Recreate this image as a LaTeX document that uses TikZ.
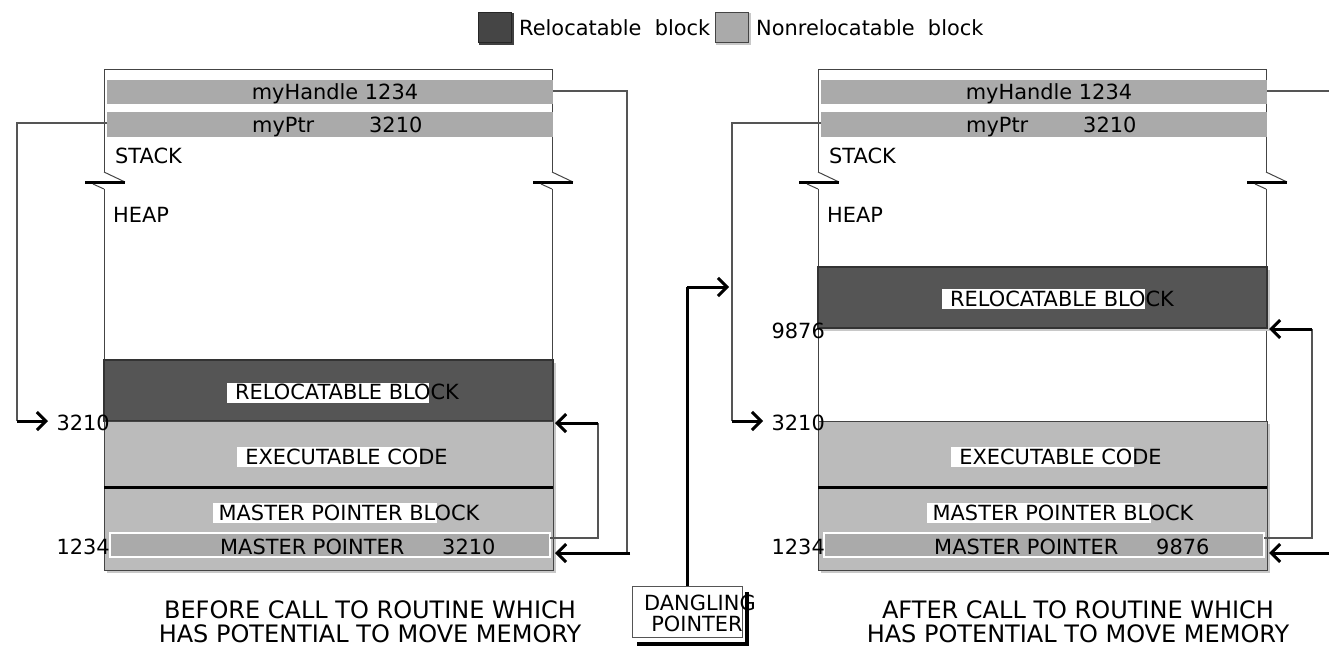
\documentclass[tikz,border=0pt]{standalone}
\usepackage{fontspec}
\setmainfont{DejaVu Sans}
\usetikzlibrary{arrows.meta}
\definecolor{dkblk}{HTML}{555555}
\definecolor{dkline}{HTML}{333333}
\definecolor{ltblk}{HTML}{BBBBBB}
\definecolor{barc}{HTML}{AAAAAA}
\definecolor{shad}{HTML}{C8C8C8}
\definecolor{framec}{HTML}{444444}
\definecolor{thinc}{HTML}{555555}
\tikzset{
  txt/.style={inner sep=0pt, font=\fontsize{20.9}{24}\selectfont, text height=15pt, text depth=0pt},
  captxt/.style={inner sep=0pt, font=\fontsize{24}{28}\selectfont, text height=17.5pt, text depth=0pt},
  frameline/.style={draw=framec, line width=1pt},
  thinline/.style={draw=thinc, line width=1.2pt},
  thickarrow/.style={draw=black, line width=3pt, -{Straight Barb[length=9pt,width=18pt]}},
  blk/.style={rectangle, inner sep=0pt, outer sep=0pt},
  relblk/.style={blk, fill=dkblk, draw=dkline, line width=1.2pt},
  nonrel/.style={blk, fill=ltblk, draw=framec, line width=1pt},
  barblk/.style={blk, fill=barc},
  mpbar/.style={blk, fill=barc, draw=white, line width=1.2pt},
  shadblk/.style={blk, fill=shad},
}
\newcommand\mybreak[1]{%
  \draw[frameline] (#1,172) -- (#1+21,182);
  \draw[line width=3pt] (#1-19,182) -- (#1+21,182);
  \draw[frameline] (#1-11,184) -- (#1,189);
}
\begin{document}
\begin{tikzpicture}[x=1pt,y=-1pt]
\useasboundingbox (0,0) rectangle (1329,646);

% ---------------- legend ----------------
\node[blk, fill=black!75, minimum width=35pt, minimum height=32pt] (lgdsh) at (496,28.5) {};
\node[blk, fill=black!73, draw=black!85, line width=1pt, minimum width=33pt, minimum height=30pt] (lgd) at (494.5,27) {};
\node[txt, anchor=west] (lgdt) at (519,28) {Relocatable\ \ block};
\node[blk, fill=shad, minimum width=35pt, minimum height=32pt] (lgnsh) at (733,28.5) {};
\node[blk, fill=barc, draw=framec, line width=1pt, minimum width=33pt, minimum height=30pt] (lgn) at (731.5,27) {};
\node[txt, anchor=west] (lgnt) at (756,28) {Nonrelocatable\ \ block};

% ---------------- left panel (before) ----------------
\begin{scope}
  \draw[frameline] (104,172) -- (104,69) -- (552,69) -- (552,172);
  \draw[frameline] (104,189) -- (104,570);
  \draw[frameline] (552,189) -- (552,570);
  \mybreak{104}
  \mybreak{552}
  \node[barblk, minimum width=446pt, minimum height=24pt] (hbarL) at (330,92) {};
  \node[txt] (htxtL) at (335,92) {myHandle 1234};
  \node[barblk, minimum width=446pt, minimum height=25pt] (pbarL) at (330,124.5) {};
  \node[txt, anchor=west] (ptxtL) at (252,124.5) {myPtr};
  \node[txt, anchor=west] (pvalL) at (369,124.5) {3210};
  \node[txt, anchor=west] (stackL) at (115,156) {STACK};
  \node[txt, anchor=west] (heapL) at (113,215) {HEAP};
  % shadows
  \node[shadblk, minimum width=449pt, minimum height=210pt] (shL) at (331.5,468) {};
  % blocks
  \node[relblk, minimum width=449pt, minimum height=61pt] (relL) at (328.5,390.5) {};
  \node[nonrel, minimum width=449pt, minimum height=66pt] (exeL) at (328.5,454) {};
  \node[nonrel, minimum width=449pt, minimum height=83pt] (mpbL) at (328.5,528.5) {};
  \draw[line width=3pt] (mpbL.north west) -- (mpbL.north east);
  \node[mpbar, minimum width=440pt, minimum height=24pt] (mpL) at (330,545) {};
  % labels with partial white background
  \fill[white] (227,383) rectangle (429,403);
  \node[txt] (reltL) at (347,392) {RELOCATABLE BLOCK};
  \fill[white] (237,447) rectangle (420,467);
  \node[txt] (exetL) at (346.5,457) {EXECUTABLE CODE};
  \fill[white] (213,503) rectangle (437,523);
  \node[txt] (mpbtL) at (349,513) {MASTER POINTER BLOCK};
  \node[txt, anchor=west] (mptL) at (220,547) {MASTER POINTER};
  \node[txt, anchor=west] (mpvL) at (442,547) {3210};
  \node[txt, anchor=east] (addrRL) at (110,423) {3210};
  \node[txt, anchor=east] (addrML) at (110,547) {1234};
  % connectors
  \coordinate (pL1) at (17,123);
  \coordinate (pL2) at (17,421);
  \coordinate (pLtip) at (48,421);
  \draw[thinline] (pbarL.west |- pL1) -- (pL1) -- (pL2);
  \draw[thickarrow] (pL2) -- (pLtip);
  \coordinate (hL1) at (627,91);
  \coordinate (hL2) at (627,553);
  \coordinate (hL3) at (630,553);
  \coordinate (hLtip) at (555,553);
  \draw[thinline] (hbarL.east |- hL1) -- (hL1) -- (hL2);
  \draw[thickarrow] (hL3) -- (hLtip);
  \coordinate (mL1) at (598,538);
  \coordinate (mL2) at (598,423);
  \coordinate (mLtip) at (555,423);
  \draw[thinline] (mpL.east |- mL1) -- (mL1) -- (mL2);
  \draw[thickarrow] (mL2) -- (mLtip);
\end{scope}

% ---------------- right panel (after) ----------------
\begin{scope}[shift={(714,0)}]
  \draw[frameline] (104,172) -- (104,69) -- (552,69) -- (552,172);
  \draw[frameline] (104,189) -- (104,570);
  \draw[frameline] (552,189) -- (552,570);
  \mybreak{104}
  \mybreak{552}
  \node[barblk, minimum width=446pt, minimum height=24pt] (hbarR) at (330,92) {};
  \node[txt] (htxtR) at (335,92) {myHandle 1234};
  \node[barblk, minimum width=446pt, minimum height=25pt] (pbarR) at (330,124.5) {};
  \node[txt, anchor=west] (ptxtR) at (252,124.5) {myPtr};
  \node[txt, anchor=west] (pvalR) at (369,124.5) {3210};
  \node[txt, anchor=west] (stackR) at (115,156) {STACK};
  \node[txt, anchor=west] (heapR) at (113,215) {HEAP};
  % shadows
  \node[shadblk, minimum width=449pt, minimum height=61pt] (shR1) at (331.5,300.5) {};
  \node[shadblk, minimum width=449pt, minimum height=149pt] (shR2) at (331.5,498.5) {};
  % blocks
  \node[relblk, minimum width=449pt, minimum height=61pt] (relR) at (328.5,297.5) {};
  \node[nonrel, minimum width=449pt, minimum height=66pt] (exeR) at (328.5,454) {};
  \node[nonrel, minimum width=449pt, minimum height=83pt] (mpbR) at (328.5,528.5) {};
  \draw[line width=3pt] (mpbR.north west) -- (mpbR.north east);
  \node[mpbar, minimum width=440pt, minimum height=24pt] (mpR) at (330,545) {};
  % labels with partial white background
  \fill[white] (228,289) rectangle (431,309);
  \node[txt] (reltR) at (348,299) {RELOCATABLE BLOCK};
  \fill[white] (237,447) rectangle (420,467);
  \node[txt] (exetR) at (346.5,457) {EXECUTABLE CODE};
  \fill[white] (213,503) rectangle (437,523);
  \node[txt] (mpbtR) at (349,513) {MASTER POINTER BLOCK};
  \node[txt, anchor=west] (mptR) at (220,547) {MASTER POINTER};
  \node[txt, anchor=west] (mpvR) at (442,547) {9876};
  \node[txt, anchor=east] (addrRR) at (111,331) {9876};
  \node[txt, anchor=east] (addrER) at (111,423) {3210};
  \node[txt, anchor=east] (addrMR) at (111,547) {1234};
  % connectors
  \coordinate (pR1) at (18,123);
  \coordinate (pR2) at (18,421);
  \coordinate (pRtip) at (49,421);
  \draw[thinline] (pbarR.west |- pR1) -- (pR1) -- (pR2);
  \draw[thickarrow] (pR2) -- (pRtip);
  \coordinate (hR1) at (615,91);
  \coordinate (hR3) at (615,553);
  \coordinate (hRtip) at (555,553);
  \draw[thinline] (hbarR.east |- hR1) -- (hR1);
  \draw[thickarrow] (hR3) -- (hRtip);
  \coordinate (mR1) at (598,538);
  \coordinate (mR2) at (598,329);
  \coordinate (mRtip) at (555,329);
  \draw[thinline] (mpR.east |- mR1) -- (mR1) -- (mR2);
  \draw[thickarrow] (mR2) -- (mRtip);
\end{scope}

% ---------------- dangling pointer ----------------
\node[blk, draw=thinc, line width=1pt, fill=white, minimum width=110pt, minimum height=51pt] (dp) at (687,611.5) {};
\draw[line width=3.5pt] (747,592) -- (747,644) -- (637,644);
\node[txt, anchor=west] (dpt1) at (644,603) {DANGLING};
\node[txt] (dpt2) at (697,624) {POINTER};
\coordinate (dp1) at (687,287);
\coordinate (dptip) at (729,287);
\draw[line width=3pt] (dp.north) -- (dp1);
\draw[thickarrow] (dp1) -- (dptip);

% ---------------- captions ----------------
\node[captxt] (capL1) at (370,610) {BEFORE CALL TO ROUTINE WHICH};
\node[captxt] (capL2) at (370,634) {HAS POTENTIAL TO MOVE MEMORY};
\node[captxt] (capR1) at (1078,610) {AFTER CALL TO ROUTINE WHICH};
\node[captxt] (capR2) at (1078,634) {HAS POTENTIAL TO MOVE MEMORY};
\end{tikzpicture}
\end{document}
